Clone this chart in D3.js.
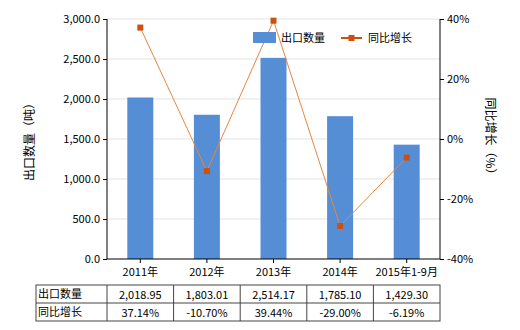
<!DOCTYPE html>
<html><head><meta charset="utf-8">
<script src="https://cdn.jsdelivr.net/npm/d3@7"></script>
<style>body{margin:0;background:#fff}svg{font-family:"Noto Sans CJK SC","Noto Sans",sans-serif}</style>
</head><body><svg id="c" width="520" height="330"></svg>
<script>
const categories=["2011年","2012年","2013年","2014年","2015年1-9月"];
const exportQty=[2018.95,1803.01,2514.17,1785.10,1429.30];
const growth=[37.14,-10.70,39.44,-29.00,-6.19];
const qtyLabels=["2,018.95","1,803.01","2,514.17","1,785.10","1,429.30"];
const growthLabels=["37.14%","-10.70%","39.44%","-29.00%","-6.19%"];
const leftTicks=[0,500,1000,1500,2000,2500,3000];
const rightTicks=[-40,-20,0,20,40];

const svg=d3.select("#c");
const L=107,R=440,T=19,B=259;
const x=d3.scaleBand().domain(categories).range([L,R]);
const y=d3.scaleLinear().domain([0,3000]).range([B,T]);
const y2=d3.scaleLinear().domain([-40,40]).range([B,T]);
const fs=11;

// grid
svg.append("g").selectAll("line").data(leftTicks.slice(1)).join("line")
 .attr("x1",L).attr("x2",R).attr("y1",d=>y(d)).attr("y2",d=>y(d))
 .attr("stroke","#e3e3e3").attr("stroke-width",1);

// bars
const bw=26;
svg.append("g").selectAll("rect").data(exportQty).join("rect")
 .attr("x",(d,i)=>x(categories[i])+x.bandwidth()/2-bw/2).attr("width",bw)
 .attr("y",d=>y(d)).attr("height",d=>B-y(d)).attr("fill","#558ed5");

// axes
const ga=svg.append("g").attr("transform",`translate(${L},0)`)
 .call(d3.axisLeft(y).tickValues(leftTicks).tickFormat(d3.format(",.1f")).tickSize(4));
const gb=svg.append("g").attr("transform",`translate(0,${B})`)
 .call(d3.axisBottom(x).tickSize(4).tickPadding(5));
const gr=svg.append("g").attr("transform",`translate(${R},0)`)
 .call(d3.axisRight(y2).tickValues(rightTicks).tickFormat(d=>d+"%").tickSize(4));
[ga,gb,gr].forEach(g=>{g.selectAll("text").attr("font-size",fs).attr("fill","#000")
 .attr("font-family","'Noto Sans CJK SC','Noto Sans',sans-serif");
 g.selectAll("path,line").attr("stroke","#000");});
ga.select(".domain").attr("d",`M-0,${T}V${B}`);
gr.select(".domain").attr("d",`M0,${T}V${B}`);
gb.select(".domain").attr("d",`M${L},0H${R}`);

// line
const cx=(d,i)=>x(categories[i])+x.bandwidth()/2;
svg.append("path").datum(growth)
 .attr("d",d3.line().x(cx).y(d=>y2(d)))
 .attr("fill","none").attr("stroke","#e8853e").attr("stroke-width",1);
svg.append("g").selectAll("rect").data(growth).join("rect")
 .attr("x",(d,i)=>cx(d,i)-3).attr("y",d=>y2(d)-3).attr("width",6).attr("height",6)
 .attr("fill","#cc5010");

// axis titles
svg.append("text").attr("transform","translate(34,139) rotate(-90)")
 .attr("text-anchor","middle").attr("font-size",12).text("出口数量（吨）");
svg.append("text").attr("transform","translate(486,139) rotate(90)")
 .attr("text-anchor","middle").attr("font-size",12).text("同比增长（%）");

// legend
const lg=svg.append("g");
lg.append("rect").attr("x",253).attr("y",32).attr("width",23).attr("height",11).attr("fill","#558ed5");
lg.append("text").attr("x",281).attr("y",42).attr("font-size",fs).text("出口数量");
lg.append("line").attr("x1",341).attr("x2",362).attr("y1",38).attr("y2",38).attr("stroke","#cc5010").attr("stroke-width",2);
lg.append("rect").attr("x",348.5).attr("y",35).attr("width",6).attr("height",6).attr("fill","#cc5010");
lg.append("text").attr("x",368).attr("y",42).attr("font-size",fs).text("同比增长");

// table
const tT=285,tM=303,tB=321,tL=36;
const tb=svg.append("g").attr("stroke","#444").attr("stroke-width",1).attr("fill","none");
tb.append("rect").attr("x",tL).attr("y",tT).attr("width",R-tL).attr("height",tB-tT);
tb.append("line").attr("x1",tL).attr("x2",R).attr("y1",tM).attr("y2",tM);
tb.selectAll(".v").data([L].concat(categories.slice(1).map(c=>x(c)))).join("line")
 .attr("x1",d=>d).attr("x2",d=>d).attr("y1",tT).attr("y2",tB);
const tx=svg.append("g").attr("font-size",fs);
tx.append("text").attr("x",tL+2).attr("y",tT+13).text("出口数量");
tx.append("text").attr("x",tL+2).attr("y",tM+13).text("同比增长");
tx.selectAll(".q").data(qtyLabels).join("text").attr("text-anchor","middle")
 .attr("x",(d,i)=>cx(d,i)).attr("y",tT+14).text(d=>d);
tx.selectAll(".g").data(growthLabels).join("text").attr("text-anchor","middle")
 .attr("x",(d,i)=>cx(d,i)).attr("y",tM+14).text(d=>d);
</script></body></html>
